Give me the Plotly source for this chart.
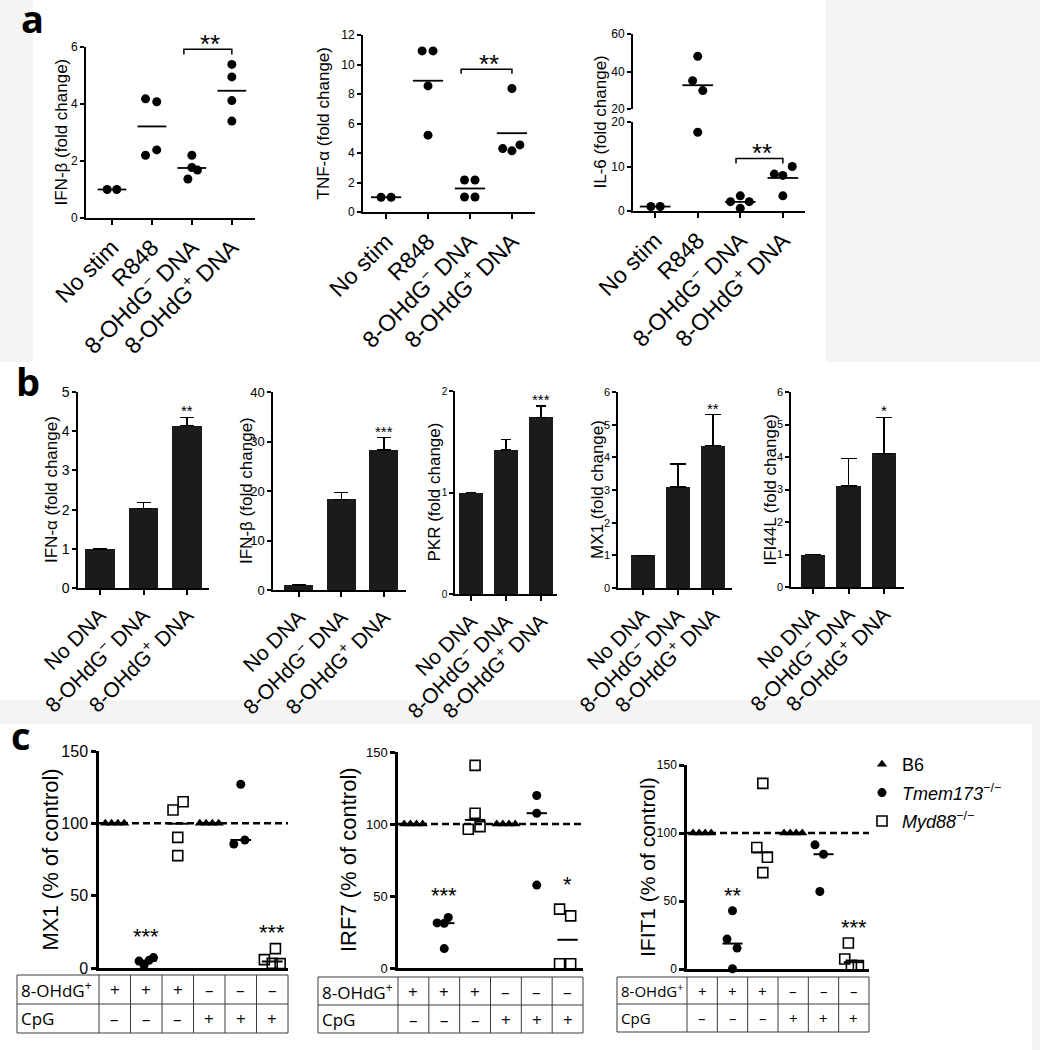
import numpy as np
import plotly.graph_objects as go

# ======================= DATA =======================
# ---- panel a : fold change, individual replicates ----
a_categories = ["No stim", "R848", "8-OHdG<sup>−</sup> DNA", "8-OHdG<sup>+</sup> DNA"]
a_ifnb_values = [[1.0, 1.0], [4.18, 4.08, 2.20, 2.39], [2.20, 1.77, 1.68, 1.37], [5.39, 4.95, 4.12, 3.40]]
a_tnfa_values = [[1.0, 1.0], [10.92, 10.92, 8.55, 5.21], [2.17, 2.17, 1.02, 1.02], [8.37, 4.30, 4.15, 4.55]]
a_il6_values = [[1.0, 1.0], [48.1, 35.1, 29.8, 17.7], [2.1, 3.4, 2.1, 0.6], [10.0, 8.3, 8.0, 3.4]]
a_titles = ["IFN-β (fold change)", "TNF-α (fold change)", "IL-6 (fold change)"]
a_sig = "**"

# ---- panel b : mean + SEM ----
b_categories = ["No DNA", "8-OHdG<sup>−</sup> DNA", "8-OHdG<sup>+</sup> DNA"]
b_titles = ["IFN-α (fold change)", "IFN-β (fold change)", "PKR (fold change)",
            "MX1 (fold change)", "IFI44L (fold change)"]
b_means = [[1.0, 2.03, 4.14], [1.0, 18.3, 28.3], [1.0, 1.42, 1.74], [1.0, 3.09, 4.36], [1.0, 3.11, 4.11]]
b_errors = [[0, 0.15, 0.21], [0, 1.4, 2.5], [0, 0.10, 0.11], [0, 0.71, 0.95], [0, 0.85, 1.11]]
b_stars = ["**", "***", "***", "**", "*"]

# ---- panel c : % of control ----
c_genotype_names = {"B6": "B6", "Tmem173": "<i>Tmem173</i><sup>−/−</sup>", "Myd88": "<i>Myd88</i><sup>−/−</sup>"}
c_column_genotype = ["B6", "Tmem173", "Myd88", "B6", "Tmem173", "Myd88"]
c_row_8ohdg = ["+", "+", "+", "–", "–", "–"]
c_row_cpg = ["–", "–", "–", "+", "+", "+"]
c_titles = ["MX1 (% of control)", "IRF7 (% of control)", "IFIT1 (% of control)"]
c_mx1_values = [[100, 100, 100, 100], [4.8, 1.9, 5.3, 7.2], [109.2, 114.9, 90.3, 77.7],
                [100, 100, 100, 100], [127.0, 85.7, 88.5], [13.4, 5.8, 3.2, 3.0]]
c_irf7_values = [[100, 100, 100, 100], [31.3, 31.0, 35.1, 13.5], [140.7, 107.5, 96.4, 98.2],
                 [100, 100, 100, 100], [119.8, 107.5, 57.6], [40.9, 36.2, 3.0, 3.0]]
c_ifit1_values = [[100, 100, 100, 100], [42.8, 22.0, 15.4, 0.2], [136.5, 89.3, 82.2, 70.9],
                  [100, 100, 100, 100], [91.3, 84.4, 57.0], [19.1, 7.3, 2.7, 2.5]]
c_stars = [{1: ("***", 23.7), 5: ("***", 26.5)},
           {1: ("***", 52.0), 5: ("*", 60.0)},
           {1: ("**", 56.0), 5: ("***", 32.5)}]
c_control_level = 100

# ================= LAYOUT CONSTANTS (pixels / styles) =================
W, H = 1040, 1050
FONT = "Liberation Sans, Arial, sans-serif"
TFONT = "Open Sans, sans-serif"

# horizontal spread of replicate dots inside a category (category units)
a_ifnb_jit = [[-0.12, 0.12], [-0.16, 0.12, -0.16, 0.12], [0, 0, 0.14, -0.1], [0, 0, 0, 0]]
a_tnfa_jit = [[-0.12, 0.12], [-0.14, 0.12, 0, 0], [-0.13, 0.12, -0.13, 0.12], [0, -0.22, 0, 0.19]]
a_il6_jit = [[-0.1, 0.12], [0, -0.12, 0.12, 0], [-0.23, 0, 0.21, 0], [0.22, -0.2, 0, 0]]
c_mx1_jit = [[-0.3, -0.1, 0.1, 0.3], [-0.23, -0.07, 0.09, 0.23], [-0.15, 0.17, 0, 0],
             [-0.3, -0.1, 0.1, 0.3], [0, -0.22, 0.13], [0.1, -0.25, 0.0, 0.25]]
c_irf7_jit = [[-0.3, -0.1, 0.1, 0.3], [-0.23, 0, 0.13, 0], [0, 0, -0.22, 0.16],
              [-0.3, -0.1, 0.1, 0.3], [0, 0, 0], [-0.26, 0.1, -0.26, 0.1]]
c_ifit1_jit = [[-0.3, -0.1, 0.1, 0.3], [0, -0.18, 0.15, 0], [0, -0.2, 0.15, 0],
               [-0.3, -0.1, 0.1, 0.3], [-0.28, 0, -0.12], [-0.18, -0.3, -0.08, 0.15]]


def px(x):
    return x / W


def py(y):
    return 1 - y / H


def sfx(n):
    return "" if n == 1 else str(n)


fig = go.Figure()
layout = {}
shapes = []
annotations = []


def x_axis(n, l, r, rng, anchor, lw, labels=None, fs=20, ticks=True):
    d = dict(
        domain=[px(l), px(r)], range=rng, anchor="y" + sfx(anchor),
        showline=True, linecolor="black", linewidth=lw,
        ticks="outside" if ticks else "", ticklen=5, tickwidth=lw, tickcolor="black",
        showticklabels=bool(labels), automargin=False,
        showgrid=False, zeroline=False, fixedrange=True)
    if labels:
        d.update(tickvals=list(range(len(labels))), ticktext=labels, tickangle=-45,
                 tickfont=dict(size=fs, family=FONT, color="black"))
    layout["xaxis" + sfx(n)] = d


def y_axis(n, top, bottom, rng, tickvals, anchor, lw, fs=12, tlen=4):
    layout["yaxis" + sfx(n)] = dict(
        domain=[py(bottom), py(top)], range=rng, anchor="x" + sfx(anchor),
        showline=True, linecolor="black", linewidth=lw,
        ticks="outside", ticklen=tlen, tickwidth=lw, tickcolor="black", automargin=False,
        tickvals=tickvals, tickfont=dict(size=fs, family=FONT, color="black"),
        showgrid=False, zeroline=False, fixedrange=True)


def y_title(text, xc, top, bottom, fs):
    annotations.append(dict(text=text, x=px(xc), y=py((top + bottom) / 2), xref="paper", yref="paper",
                            textangle=-90, showarrow=False, xanchor="center", yanchor="middle",
                            font=dict(size=fs, family=FONT, color="black")))


def flatten(groups, jit):
    xs, ys = [], []
    for i, (vals, js) in enumerate(zip(groups, jit)):
        for v, j in zip(vals, js):
            xs.append(i + j)
            ys.append(v)
    return np.array(xs), np.array(ys)


def level_lines(groups, func, half):
    xs, ys = [], []
    for i, vals in enumerate(groups):
        m = func(vals)
        xs += [i - half, i + half, None]
        ys += [m, m, None]
    return xs, ys


def bracket(n, x0, x1, ytop, ybot, star_x, star_y, fs=26):
    shapes.append(dict(type="path", xref="x" + sfx(n), yref="y" + sfx(n),
                       path=f"M {x0},{ybot} L {x0},{ytop} L {x1},{ytop} L {x1},{ybot}",
                       line=dict(color="black", width=1.5)))
    annotations.append(dict(text=a_sig, x=star_x, y=star_y, xref="x" + sfx(n), yref="y" + sfx(n),
                            showarrow=False, xanchor="center", yanchor="bottom", yshift=-12,
                            font=dict(size=fs, family=FONT, color="black")))


# ---------------- panel a ----------------
a_specs = [
    dict(n=1, xl=86, xr=255, yt=47, yb=218, xrng=[-0.65, 3.58], yrng=[0, 6], yt_vals=[0, 2, 4, 6],
         data=a_ifnb_values, jit=a_ifnb_jit, tx=61, br=(1.8, 3.0, 5.92, 5.74, 2.45, 5.92)),
    dict(n=2, xl=363, xr=535, yt=35, yb=212, xrng=[-0.55, 3.55], yrng=[0, 12], yt_vals=[0, 2, 4, 6, 8, 10, 12],
         data=a_tnfa_values, jit=a_tnfa_jit, tx=323, br=(1.79, 3.0, 9.68, 9.38, 2.45, 9.68)),
]
for i, s in enumerate(a_specs):
    n = s["n"]
    x_axis(n, s["xl"], s["xr"], s["xrng"], n, 2, a_categories, fs=23)
    y_axis(n, s["yt"], s["yb"], s["yrng"], s["yt_vals"], n, 2)
    xs, ys = flatten(s["data"], s["jit"])
    fig.add_trace(go.Scatter(x=xs, y=ys, mode="markers", xaxis="x" + sfx(n), yaxis="y" + sfx(n),
                             marker=dict(color="black", size=9), cliponaxis=False,
                             showlegend=False, hoverinfo="skip"))
    lx, ly = level_lines(s["data"], np.mean, 0.36)
    fig.add_trace(go.Scatter(x=lx, y=ly, mode="lines", xaxis="x" + sfx(n), yaxis="y" + sfx(n),
                             line=dict(color="black", width=1.8), showlegend=False, hoverinfo="skip"))
    y_title(a_titles[i], s["tx"], s["yt"], s["yb"], 17)
    b = s["br"]
    bracket(n, b[0], b[1], b[2], b[3], b[4], b[5])

# IL-6 with broken axis: x3 / y3 (0-20), y4 (20-60)
x_axis(3, 633, 805, [-0.52, 3.52], 3, 2, a_categories, fs=23)
y_axis(3, 122, 211, [0, 20], [0, 10, 20], 3, 2)
y_axis(4, 34, 109, [20, 60], [20, 40, 60], 3, 2)
xs, ys = flatten(a_il6_values, a_il6_jit)
low = ys < 20
fig.add_trace(go.Scatter(x=xs[low], y=ys[low], mode="markers", xaxis="x3", yaxis="y3",
                         marker=dict(color="black", size=9), cliponaxis=False, showlegend=False, hoverinfo="skip"))
fig.add_trace(go.Scatter(x=xs[~low], y=ys[~low], mode="markers", xaxis="x3", yaxis="y4",
                         marker=dict(color="black", size=9), cliponaxis=False, showlegend=False, hoverinfo="skip"))
lx, ly = level_lines(a_il6_values, np.mean, 0.36)
lx_low, ly_low, lx_up, ly_up = [], [], [], []
for k in range(0, len(lx), 3):
    tgt = (lx_low, ly_low) if ly[k] < 20 else (lx_up, ly_up)
    tgt[0].extend([lx[k], lx[k + 1], None])
    tgt[1].extend([ly[k], ly[k + 1], None])
fig.add_trace(go.Scatter(x=lx_low, y=ly_low, mode="lines", xaxis="x3", yaxis="y3",
                         line=dict(color="black", width=1.8), showlegend=False, hoverinfo="skip"))
fig.add_trace(go.Scatter(x=lx_up, y=ly_up, mode="lines", xaxis="x3", yaxis="y4",
                         line=dict(color="black", width=1.8), showlegend=False, hoverinfo="skip"))
y_title(a_titles[2], 600, 34, 211, 17)
bracket(3, 1.9, 3.0, 11.8, 10.7, 2.5, 11.8)

# ---------------- panel b ----------------
b_specs = [
    dict(xl=78, xr=209, yt=392, yb=588, xrng=[-0.5, 2.5], yrng=[0, 5], ticks=[0, 1, 2, 3, 4, 5], tx=51, cap=7, tfs=14),
    dict(xl=273, xr=406, yt=392, yb=590, xrng=[-0.61, 2.52], yrng=[0, 40], ticks=[0, 10, 20, 30, 40], tx=246, cap=7, tfs=13),
    dict(xl=455, xr=557, yt=391, yb=594, xrng=[-0.46, 2.46], yrng=[0, 2], ticks=[0, 1, 2], tx=434, cap=5, tfs=10),
    dict(xl=618, xr=732, yt=392, yb=588, xrng=[-0.71, 2.54], yrng=[0, 6], ticks=[0, 1, 2, 3, 4, 5, 6], tx=597, cap=8, tfs=11),
    dict(xl=791, xr=904, yt=392, yb=587, xrng=[-0.62, 2.56], yrng=[0, 6], ticks=[0, 1, 2, 3, 4, 5, 6], tx=770, cap=8, tfs=11),
]
for i, s in enumerate(b_specs):
    xn = 4 + i
    yn = 5 + i
    x_axis(xn, s["xl"], s["xr"], s["xrng"], yn, 1.5, b_categories, fs=21)
    y_axis(yn, s["yt"], s["yb"], s["yrng"], s["ticks"], xn, 1.5, fs=s["tfs"])
    fig.add_trace(go.Bar(x=list(range(len(b_categories))), y=b_means[i], width=0.68,
                         xaxis="x" + sfx(xn), yaxis="y" + sfx(yn),
                         marker=dict(color="#1b1b1b", line=dict(width=0)),
                         error_y=dict(type="data", symmetric=False, array=b_errors[i],
                                      arrayminus=[0] * len(b_errors[i]), color="black",
                                      thickness=1.5, width=s["cap"]),
                         showlegend=False, hoverinfo="skip"))
    top = b_means[i][2] + b_errors[i][2]
    annotations.append(dict(text=b_stars[i], x=2, y=top, xref="x" + sfx(xn), yref="y" + sfx(yn),
                            showarrow=False, xanchor="center", yanchor="bottom", yshift=-4,
                            font=dict(size=15, family=FONT, color="black")))
    y_title(b_titles[i], s["tx"], s["yt"], s["yb"], 17)

# ---------------- panel c ----------------
marker_style = {
    "B6": dict(symbol="triangle-up", color="black", size=9),
    "Tmem173": dict(symbol="circle", color="black", size=9),
    "Myd88": dict(symbol="square-open", color="black", size=10, line=dict(width=1.6, color="black")),
}
c_specs = [
    dict(xn=9, yn=10, xl=99, xr=288, yt=751, yb=968, tfs=16, tx=50, titfs=22, tabfs=17,
         data=c_mx1_values, jit=c_mx1_jit, tab_left=17, rows=(975, 1004, 1033)),
    dict(xn=10, yn=11, xl=398, xr=583, yt=752, yb=968, tfs=13, tx=348, titfs=22, tabfs=17,
         data=c_irf7_values, jit=c_irf7_jit, tab_left=318, rows=(977, 1005, 1033)),
    dict(xn=11, yn=12, xl=687, xr=869, yt=765, yb=969, tfs=12, tx=647, titfs=21, tabfs=15,
         data=c_ifit1_values, jit=c_ifit1_jit, tab_left=617, rows=(977, 1004, 1032)),
]
legend_done = set()
for i, s in enumerate(c_specs):
    xn, yn = s["xn"], s["yn"]
    x_axis(xn, s["xl"], s["xr"], [-0.5, 5.5], yn, 2.5, None, ticks=False)
    y_axis(yn, s["yt"], s["yb"], [0, 150], [0, 50, 100, 150], xn, 2.5, fs=s["tfs"], tlen=5)
    fig.add_trace(go.Scatter(x=[-0.5, 5.5], y=[c_control_level, c_control_level], mode="lines",
                             xaxis="x" + sfx(xn), yaxis="y" + sfx(yn),
                             line=dict(color="black", width=2.5, dash="7px,4px"),
                             showlegend=False, hoverinfo="skip"))
    lx, ly = level_lines(s["data"], np.median, 0.33)
    fig.add_trace(go.Scatter(x=lx, y=ly, mode="lines", xaxis="x" + sfx(xn), yaxis="y" + sfx(yn),
                             line=dict(color="black", width=2), showlegend=False, hoverinfo="skip"))
    for g in ["B6", "Tmem173", "Myd88"]:
        gx, gy = [], []
        for col, geno in enumerate(c_column_genotype):
            if geno != g:
                continue
            for v, j in zip(s["data"][col], s["jit"][col]):
                gx.append(col + j)
                gy.append(v)
        show = g not in legend_done
        legend_done.add(g)
        fig.add_trace(go.Scatter(x=gx, y=gy, mode="markers", xaxis="x" + sfx(xn), yaxis="y" + sfx(yn),
                                 marker=marker_style[g], name=c_genotype_names[g], legendgroup=g,
                                 showlegend=show, cliponaxis=False, hoverinfo="skip"))
    for col, (txt, yv) in c_stars[i].items():
        annotations.append(dict(text=txt, x=col, y=yv, xref="x" + sfx(xn), yref="y" + sfx(yn),
                                showarrow=False, xanchor="center", yanchor="bottom", yshift=-17,
                                font=dict(size=22, family=FONT, color="black")))
    y_title(c_titles[i], s["tx"], s["yt"], s["yb"], s["titfs"])
    top, mid, bot = s["rows"]
    x0, x1, left = s["xl"], s["xr"], s["tab_left"]
    cw = (x1 - x0) / 6
    tl = dict(color="#3a3a3a", width=1)
    shapes.append(dict(type="rect", xref="paper", yref="paper", x0=px(left), x1=px(x1),
                       y0=py(bot), y1=py(top), line=tl))
    shapes.append(dict(type="line", xref="paper", yref="paper", x0=px(left), x1=px(x1),
                       y0=py(mid), y1=py(mid), line=tl))
    for k in range(6):
        xx = x0 + k * cw
        shapes.append(dict(type="line", xref="paper", yref="paper", x0=px(xx), x1=px(xx),
                           y0=py(bot), y1=py(top), line=tl))
    for label, row, (ra, rb) in [("8-OHdG<sup>+</sup>", c_row_8ohdg, (top, mid)),
                                 ("CpG", c_row_cpg, (mid, bot))]:
        annotations.append(dict(text=label, x=px(left + 2), y=py((ra + rb) / 2), xref="paper", yref="paper",
                                showarrow=False, xanchor="left", yanchor="middle",
                                font=dict(size=s["tabfs"], family=TFONT, color="black")))
        for k, sym in enumerate(row):
            annotations.append(dict(text=sym, x=px(x0 + (k + 0.5) * cw), y=py((ra + rb) / 2),
                                    xref="paper", yref="paper", showarrow=False,
                                    xanchor="center", yanchor="middle",
                                    font=dict(size=s["tabfs"], family=TFONT, color="black")))

# panel letters
for letter, xl, yb in [("a", 19, 46), ("b", 14, 409), ("c", 9, 763)]:
    annotations.append(dict(text=f"<b>{letter}</b>", x=px(xl), y=py(yb), xref="paper", yref="paper",
                            showarrow=False, xanchor="left", yanchor="bottom",
                            font=dict(size=38, family=TFONT, color="black")))

# faint background areas outside the white panels
bg = "#f4f4f4"
for (x0, y0, x1, y1) in [(0, 0, 33, 362), (826, 0, 1040, 362), (0, 700, 1040, 724), (1032, 724, 1040, 1050)]:
    shapes.append(dict(type="rect", xref="paper", yref="paper", x0=px(x0), x1=px(x1), y0=py(y1), y1=py(y0),
                       fillcolor=bg, line=dict(width=0), layer="below"))

fig.update_layout(
    width=W, height=H, margin=dict(l=0, r=0, t=0, b=0, pad=0, autoexpand=False),
    paper_bgcolor="white", plot_bgcolor="rgba(0,0,0,0)",
    font=dict(family=FONT, color="black"),
    showlegend=True,
    legend=dict(x=px(862), y=py(746), xanchor="left", yanchor="top", bgcolor="rgba(0,0,0,0)",
                font=dict(size=18, family=FONT, color="black"), itemwidth=30, tracegroupgap=2),
    shapes=shapes, annotations=annotations, bargap=0,
    **layout,
)

fig.write_html("out.html", config={"displayModeBar": False},
               post_script="document.body.style.margin='0px';document.body.style.padding='0px';")
